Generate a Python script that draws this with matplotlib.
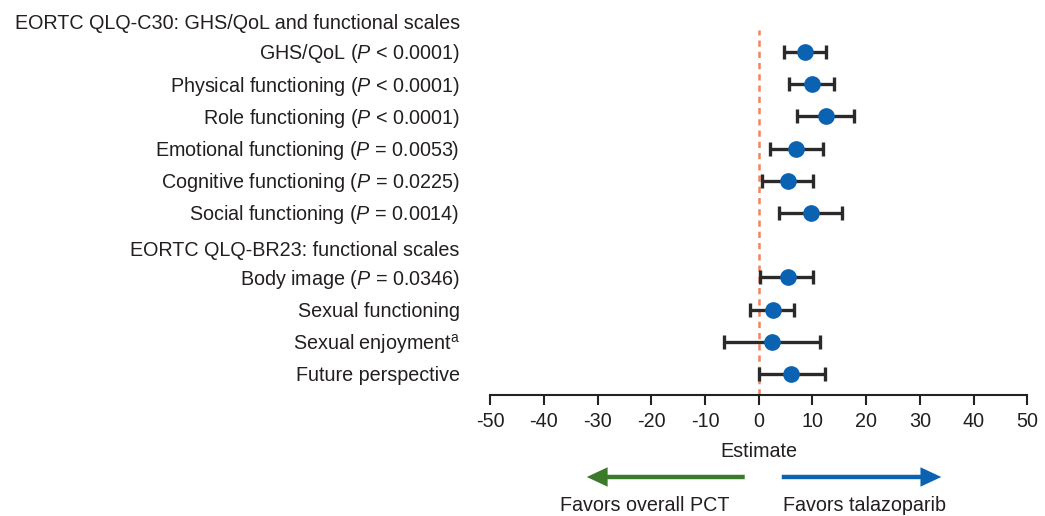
import matplotlib.pyplot as plt
from matplotlib.transforms import blended_transform_factory

plt.rcParams['font.family'] = ['Liberation Sans', 'DejaVu Sans']
plt.rcParams['mathtext.fontset'] = 'custom'
plt.rcParams['mathtext.rm'] = 'Liberation Sans'
plt.rcParams['mathtext.it'] = 'Liberation Sans:italic'
plt.rcParams['axes.unicode_minus'] = False

# data
headers = ['EORTC QLQ-C30: GHS/QoL and functional scales',
           'EORTC QLQ-BR23: functional scales']
header_rows = [0.13, 7.17]
labels = ['GHS/QoL ($P$ < 0.0001)',
          'Physical functioning ($P$ < 0.0001)',
          'Role functioning ($P$ < 0.0001)',
          'Emotional functioning ($P$ = 0.0053)',
          'Cognitive functioning ($P$ = 0.0225)',
          'Social functioning ($P$ = 0.0014)',
          'Body image ($P$ = 0.0346)',
          'Sexual functioning',
          'Sexual enjoyment$^\\mathrm{a}$',
          'Future perspective']
rows = [1, 2, 3, 4, 5, 6, 8, 9, 10, 11]
estimate = [8.6, 9.9, 12.5, 6.9, 5.4, 9.7, 5.4, 2.6, 2.4, 6.1]
ci_low = [4.7, 5.6, 7.1, 2.1, 0.7, 3.7, 0.2, -1.7, -6.5, 0.0]
ci_high = [12.5, 14.0, 17.7, 11.9, 10.1, 15.6, 10.2, 6.5, 11.4, 12.3]
xticks = list(range(-50, 51, 10))

txt = '#231f20'
blue = '#0b62b0'
green = '#3b7a2a'
fs = 14.2

fig = plt.figure(figsize=(10.45, 5.16), dpi=100)
ax = fig.add_axes([0.469, 0.2345, 0.514, 0.7074])

err = [[e - l for e, l in zip(estimate, ci_low)],
       [h - e for e, h in zip(estimate, ci_high)]]
ax.errorbar(estimate, rows, xerr=err, fmt='o', color=blue, markersize=11,
            ecolor='#2a2a2a', elinewidth=2.4, capsize=5, capthick=2.4, zorder=3)
ax.axvline(0, color='#f4845f', linestyle=(0, (2.5, 2)), linewidth=1.8, zorder=1)

ax.set_xlim(-50, 50)
ax.set_ylim(11.65, 0.32)
ax.set_xticks(xticks)
ax.set_yticks([])
for s in ['top', 'right', 'left']:
    ax.spines[s].set_visible(False)
ax.spines['bottom'].set_linewidth(1.5)
ax.spines['bottom'].set_color('#222222')
ax.tick_params(axis='x', direction='out', length=7, width=1.5, color='#222222',
               labelsize=fs, labelcolor=txt, pad=5)
ax.set_xlabel('Estimate', fontsize=fs, color=txt, labelpad=8)

# row labels to the left of the axes
trans = blended_transform_factory(fig.transFigure, ax.transData)
for h, r in zip(headers, header_rows):
    ax.text(0.44, r, h, transform=trans, ha='right', va='center',
            fontsize=fs, color=txt, clip_on=False)
for lab, r in zip(labels, rows):
    ax.text(0.44, r + 0.06, lab, transform=trans, ha='right', va='center',
            fontsize=fs, color=txt, clip_on=False)

# direction arrows below the axis
arrow_style = 'simple,head_length=0.75,head_width=0.7,tail_width=0.16'
ax.annotate('', xy=(-32, 0.0756), xytext=(-2.6, 0.0756),
            xycoords=('data', 'figure fraction'),
            textcoords=('data', 'figure fraction'),
            arrowprops=dict(arrowstyle=arrow_style, color=green, lw=0,
                            mutation_scale=20, shrinkA=0, shrinkB=0),
            annotation_clip=False)
ax.annotate('', xy=(34, 0.0756), xytext=(4.3, 0.0756),
            xycoords=('data', 'figure fraction'),
            textcoords=('data', 'figure fraction'),
            arrowprops=dict(arrowstyle=arrow_style, color=blue, lw=0,
                            mutation_scale=20, shrinkA=0, shrinkB=0),
            annotation_clip=False)
ax.annotate('Favors overall PCT', xy=(-21.3, 0.02), xycoords=('data', 'figure fraction'),
            ha='center', va='center', fontsize=fs, color=txt, annotation_clip=False)
ax.annotate('Favors talazoparib', xy=(19.7, 0.02), xycoords=('data', 'figure fraction'),
            ha='center', va='center', fontsize=fs, color=txt, annotation_clip=False)

fig.savefig('out.png', dpi=100)
